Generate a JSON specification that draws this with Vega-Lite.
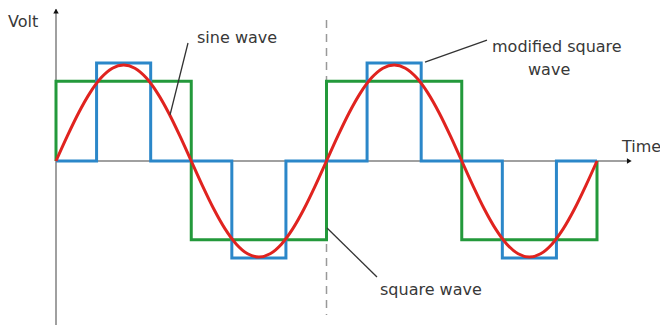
{
  "$schema": "https://vega.github.io/schema/vega-lite/v6.json",
  "width": 660,
  "height": 330,
  "autosize": "none",
  "padding": 0,
  "background": "white",
  "config": {"view": {"stroke": null}},
  "datasets": {
    "sine": [
      {"t": 0, "v": 0}, {"t": 15, "v": 0.2588}, {"t": 30, "v": 0.5}, {"t": 45, "v": 0.7071}, {"t": 60, "v": 0.866}, {"t": 75, "v": 0.9659},
      {"t": 90, "v": 1}, {"t": 105, "v": 0.9659}, {"t": 120, "v": 0.866}, {"t": 135, "v": 0.7071}, {"t": 150, "v": 0.5}, {"t": 165, "v": 0.2588},
      {"t": 180, "v": 0}, {"t": 195, "v": -0.2588}, {"t": 210, "v": -0.5}, {"t": 225, "v": -0.7071}, {"t": 240, "v": -0.866}, {"t": 255, "v": -0.9659},
      {"t": 270, "v": -1}, {"t": 285, "v": -0.9659}, {"t": 300, "v": -0.866}, {"t": 315, "v": -0.7071}, {"t": 330, "v": -0.5}, {"t": 345, "v": -0.2588},
      {"t": 360, "v": 0}, {"t": 375, "v": 0.2588}, {"t": 390, "v": 0.5}, {"t": 405, "v": 0.7071}, {"t": 420, "v": 0.866}, {"t": 435, "v": 0.9659},
      {"t": 450, "v": 1}, {"t": 465, "v": 0.9659}, {"t": 480, "v": 0.866}, {"t": 495, "v": 0.7071}, {"t": 510, "v": 0.5}, {"t": 525, "v": 0.2588},
      {"t": 540, "v": 0}, {"t": 555, "v": -0.2588}, {"t": 570, "v": -0.5}, {"t": 585, "v": -0.7071}, {"t": 600, "v": -0.866}, {"t": 615, "v": -0.9659},
      {"t": 630, "v": -1}, {"t": 645, "v": -0.9659}, {"t": 660, "v": -0.866}, {"t": 675, "v": -0.7071}, {"t": 690, "v": -0.5}, {"t": 705, "v": -0.2588},
      {"t": 720, "v": 0}
    ],
    "square": [
      {"i": 0, "t": 0, "v": 0}, {"i": 1, "t": 0, "v": 0.83}, {"i": 2, "t": 180, "v": 0.83}, {"i": 3, "t": 180, "v": -0.82},
      {"i": 4, "t": 360, "v": -0.82}, {"i": 5, "t": 360, "v": 0.83}, {"i": 6, "t": 540, "v": 0.83}, {"i": 7, "t": 540, "v": -0.82},
      {"i": 8, "t": 720, "v": -0.82}, {"i": 9, "t": 720, "v": 0}
    ],
    "modified": [
      {"i": 0, "t": 0, "v": 0}, {"i": 1, "t": 54, "v": 0}, {"i": 2, "t": 54, "v": 1.02}, {"i": 3, "t": 126, "v": 1.02}, {"i": 4, "t": 126, "v": 0},
      {"i": 5, "t": 234, "v": 0}, {"i": 6, "t": 234, "v": -1.01}, {"i": 7, "t": 306, "v": -1.01}, {"i": 8, "t": 306, "v": 0},
      {"i": 9, "t": 414, "v": 0}, {"i": 10, "t": 414, "v": 1.02}, {"i": 11, "t": 486, "v": 1.02}, {"i": 12, "t": 486, "v": 0},
      {"i": 13, "t": 594, "v": 0}, {"i": 14, "t": 594, "v": -1.01}, {"i": 15, "t": 666, "v": -1.01}, {"i": 16, "t": 666, "v": 0},
      {"i": 17, "t": 720, "v": 0}
    ],
    "axes": [
      {"t": 0, "v": 1.58, "t2": 0, "v2": -1.708},
      {"t": 0, "v": 0, "t2": 764, "v2": 0}
    ],
    "dashed": [
      {"t": 360, "v": 1.469, "t2": 360, "v2": -1.604}
    ],
    "leaders": [
      {"t": 175.7, "v": 1.229, "t2": 151.7, "v2": 0.479},
      {"t": 573.6, "v": 1.26, "t2": 491.1, "v2": 1.031},
      {"t": 360.7, "v": -0.698, "t2": 427.2, "v2": -1.208}
    ],
    "arrows": [
      {"t": 0, "v": 1.56, "shape": "triangle-up"},
      {"t": 763, "v": 0, "shape": "triangle-right"}
    ],
    "labels": [
      {"t": -63.9, "v": 1.448, "label": "Volt"},
      {"t": 187.7, "v": 1.281, "label": "sine wave"},
      {"t": 580.3, "v": 1.1875, "label": "modified square"},
      {"t": 628.2, "v": 0.948, "label": "wave"},
      {"t": 431.2, "v": -1.344, "label": "square wave"},
      {"t": 753.3, "v": 0.146, "label": "Time"}
    ]
  },
  "layer": [
    {
      "data": {"name": "axes"},
      "mark": {"type": "rule", "color": "#a0a0a0", "strokeWidth": 2},
      "encoding": {
        "x": {"field": "t", "type": "quantitative", "scale": {"domain": [-74.53, 803.84], "nice": false, "zero": false}, "axis": null},
        "y": {"field": "v", "type": "quantitative", "scale": {"domain": [-1.7604, 1.6771], "nice": false, "zero": false}, "axis": null},
        "x2": {"field": "t2"},
        "y2": {"field": "v2"}
      }
    },
    {
      "data": {"name": "dashed"},
      "mark": {"type": "rule", "color": "#999999", "strokeWidth": 1.5, "strokeDash": [8, 6]},
      "encoding": {
        "x": {"field": "t", "type": "quantitative"},
        "y": {"field": "v", "type": "quantitative"},
        "x2": {"field": "t2"},
        "y2": {"field": "v2"}
      }
    },
    {
      "data": {"name": "arrows"},
      "mark": {"type": "point", "filled": true, "color": "#111111", "size": 30, "opacity": 1},
      "encoding": {
        "x": {"field": "t", "type": "quantitative"},
        "y": {"field": "v", "type": "quantitative"},
        "shape": {"field": "shape", "type": "nominal", "scale": null}
      }
    },
    {
      "data": {"name": "square"},
      "mark": {"type": "line", "color": "#23993b", "strokeWidth": 3, "strokeJoin": "miter"},
      "encoding": {
        "x": {"field": "t", "type": "quantitative"},
        "y": {"field": "v", "type": "quantitative"},
        "order": {"field": "i", "type": "quantitative"}
      }
    },
    {
      "data": {"name": "modified"},
      "mark": {"type": "line", "color": "#2b87c9", "strokeWidth": 3, "strokeJoin": "miter"},
      "encoding": {
        "x": {"field": "t", "type": "quantitative"},
        "y": {"field": "v", "type": "quantitative"},
        "order": {"field": "i", "type": "quantitative"}
      }
    },
    {
      "data": {"name": "sine"},
      "mark": {"type": "line", "color": "#e0231f", "strokeWidth": 3, "interpolate": "monotone"},
      "encoding": {
        "x": {"field": "t", "type": "quantitative"},
        "y": {"field": "v", "type": "quantitative"}
      }
    },
    {
      "data": {"name": "leaders"},
      "mark": {"type": "rule", "color": "#333333", "strokeWidth": 1.3},
      "encoding": {
        "x": {"field": "t", "type": "quantitative"},
        "y": {"field": "v", "type": "quantitative"},
        "x2": {"field": "t2"},
        "y2": {"field": "v2"}
      }
    },
    {
      "data": {"name": "labels"},
      "mark": {"type": "text", "align": "left", "baseline": "middle", "font": "DejaVu Sans", "fontSize": 16, "color": "#383838"},
      "encoding": {
        "x": {"field": "t", "type": "quantitative"},
        "y": {"field": "v", "type": "quantitative"},
        "text": {"field": "label", "type": "nominal"}
      }
    }
  ]
}
